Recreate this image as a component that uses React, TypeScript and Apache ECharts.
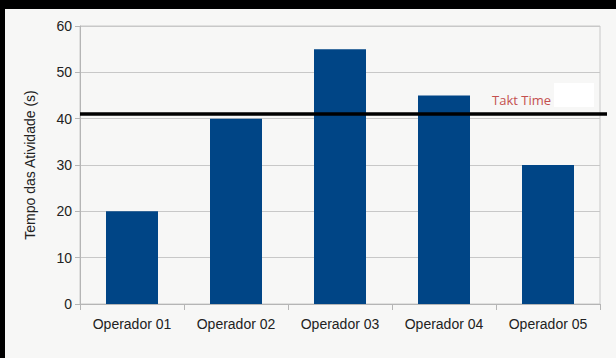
import React, { useEffect, useRef } from "react";
import * as echarts from "echarts";

const categories = ["Operador 01", "Operador 02", "Operador 03", "Operador 04", "Operador 05"];
const tempos = [20, 40, 55, 45, 30];
const taktTime = 41;
const taktLabel = "Takt Time";
const yAxisTitle = "Tempo das Atividade (s)";

export default function App() {
  const ref = useRef<HTMLDivElement>(null);
  useEffect(() => {
    if (!ref.current) return;
    const chart = echarts.init(ref.current, undefined, { renderer: "svg" });
    const font = "Liberation Sans";
    chart.setOption({
      animation: false,
      backgroundColor: "#f7f7f6",
      textStyle: { fontFamily: font },
      grid: {
        left: 75,
        right: 16,
        top: 17,
        bottom: 54,
        show: true,
        borderColor: "#c8c8c8",
        borderWidth: 1,
        backgroundColor: "transparent",
      },
      xAxis: {
        type: "category",
        data: categories,
        axisLine: { lineStyle: { color: "#b5b5b5" } },
        axisTick: { show: true, length: 6, lineStyle: { color: "#b5b5b5" } },
        axisLabel: { color: "#222222", fontSize: 14, margin: 13, fontFamily: font },
      },
      yAxis: {
        type: "value",
        min: 0,
        max: 60,
        interval: 10,
        name: yAxisTitle,
        nameLocation: "middle",
        nameGap: 43,
        nameTextStyle: { color: "#222222", fontSize: 14, fontFamily: font },
        axisLine: { show: true, lineStyle: { color: "#b5b5b5" } },
        axisTick: { show: true, length: 5, lineStyle: { color: "#b5b5b5" } },
        axisLabel: { color: "#222222", fontSize: 14, margin: 8, fontFamily: font },
        splitLine: { lineStyle: { color: "#c8c8c8" } },
      },
      series: [
        {
          type: "bar",
          data: tempos,
          barWidth: "50%",
          itemStyle: { color: "#004586" },
        },
      ],
    });
    const y = chart.convertToPixel({ yAxisIndex: 0 }, taktTime) as number;
    chart.setOption({
      graphic: [
        {
          type: "rect",
          z: 100,
          shape: { x: 549, y: y - 31, width: 40, height: 24 },
          style: { fill: "#ffffff" },
        },
        {
          type: "text",
          z: 101,
          x: 487,
          y: y - 14,
          style: {
            text: taktLabel,
            fill: "#c4504f",
            fontSize: 13,
            fontFamily: "Open Sans",
            verticalAlign: "middle",
          },
        },
        {
          type: "line",
          z: 102,
          shape: { x1: 75, y1: y, x2: 602, y2: y },
          style: { stroke: "#000000", lineWidth: 3.5 },
        },
      ],
    });
    return () => chart.dispose();
  }, []);
  return (
    <div style={{ position: "fixed", left: 0, top: 0, width: 616, height: 358, background: "#000" }}>
      <div ref={ref} style={{ position: "absolute", left: 5, top: 9, width: 611, height: 349 }} />
    </div>
  );
}
